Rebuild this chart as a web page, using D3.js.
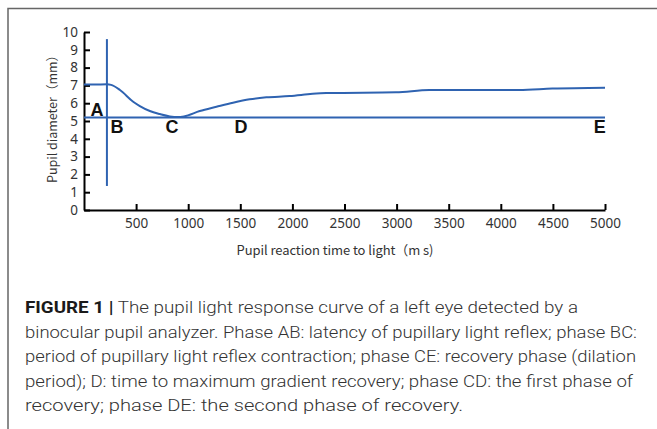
<!DOCTYPE html>
<html>
<head>
<meta charset="utf-8">
<script src="https://cdn.jsdelivr.net/npm/d3@7"></script>
<style>
  body { margin: 0; background: #fff; }
  .label { font-family: "Noto Sans CJK SC", "Noto Sans", sans-serif; font-size: 13px; fill: #333; }
  .letra { font-family: "Liberation Sans", Arial, sans-serif; font-size: 18px; font-weight: bold; fill: #111; }
  .caption { font-family: Roboto, "Liberation Sans", sans-serif; font-size: 16.5px; font-weight: 300; fill: #333; }
</style>
</head>
<body>
<div id="fig"></div>
<script>
// curva de respuesta pupilar (ms, mm)
const tiempos = [0, 100, 220, 260, 345, 472, 536, 632, 728, 824, 900, 960, 1111, 1271, 1430, 1590, 1750, 1973, 2100, 2229, 2356, 2995, 3314, 4176, 4495, 5000];
const diametros = [7.05, 7.05, 7.06, 7.03, 6.74, 6.08, 5.84, 5.56, 5.39, 5.26, 5.22, 5.26, 5.56, 5.8, 6.03, 6.22, 6.33, 6.4, 6.47, 6.55, 6.57, 6.61, 6.74, 6.74, 6.82, 6.87];

// líneas de referencia
const nivelBase = 5.2;          // horizontal, de 0 a 5000 ms
const latencia = 220;           // vertical en B
const latenciaRango = [1.35, 9.6];

// puntos de fase
const fases = ["A", "B", "C", "D", "E"];
const faseX = [125, 317, 845, 1506, 4950];
const faseY = [5.28, 4.33, 4.33, 4.33, 4.33];

const xTicks = [500, 1000, 1500, 2000, 2500, 3000, 3500, 4000, 4500, 5000];
const yTicks = [0, 1, 2, 3, 4, 5, 6, 7, 8, 9, 10];

const xLabel = "Pupil reaction time to light（m s)";
const yLabel = "Pupil diameter（mm）";

const captionBold = "FIGURE 1 |";
const captionLines = [
  " The pupil light response curve of a left eye detected by a",
  "binocular pupil analyzer. Phase AB: latency of pupillary light reflex; phase BC:",
  "period of pupillary light reflex contraction; phase CE: recovery phase (dilation",
  "period); D: time to maximum gradient recovery; phase CD: the first phase of",
  "recovery; phase DE: the second phase of recovery."
];
const captionWidths = [553, 612, 611, 608, 438];

const w = 657, h = 429;
const margin = ({ top: 32, left: 84, bottom: 219, right: 52 });
const azul = "#2f63b1";

const svg = d3.select("#fig")
    .append("svg")
    .attr("width", w)
    .attr("height", h);

// marco
svg.append("path")
    .attr("d", "M8,429V8.5H657")
    .attr("fill", "none")
    .attr("stroke", "#666")
    .attr("stroke-width", 1.5);

const xScale = d3.scaleLinear()
    .domain([0, 5000])
    .range([margin.left, w - margin.right]);

const yScale = d3.scaleLinear()
    .domain([0, 10])
    .range([h - margin.bottom, margin.top]);

// Ejes
const xAxis = d3.axisBottom(xScale)
    .tickValues(xTicks)
    .tickFormat(d3.format("d"))
    .tickSizeInner(-6)
    .tickSizeOuter(0)
    .tickPadding(8);

const yAxis = d3.axisLeft(yScale)
    .tickValues(yTicks)
    .tickFormat(d3.format("d"))
    .tickSizeInner(-6)
    .tickSizeOuter(0)
    .tickPadding(6);

const gx = svg.append("g")
    .attr("transform", `translate(0,${yScale(0)})`)
    .call(xAxis);

const gy = svg.append("g")
    .attr("transform", `translate(${xScale(0)},0)`)
    .call(yAxis);

[gx, gy].forEach(g => {
    g.attr("font-family", "'Noto Sans', 'Open Sans', sans-serif")
        .attr("font-size", 13.5);
    g.select(".domain").attr("stroke", "#000").attr("stroke-width", 2);
    g.selectAll(".tick line").attr("stroke", "#000").attr("stroke-width", 2);
    g.selectAll(".tick text").attr("fill", "#333");
});

svg.append("text")
    .attr("class", "label")
    .attr("x", 335)
    .attr("y", 255)
    .attr("textLength", 197)
    .style("text-anchor", "middle")
    .text(xLabel);

svg.append("text")
    .attr("class", "label")
    .attr("transform", "rotate(-90)")
    .attr("x", -116)
    .attr("y", 57)
    .style("font-size", "12.5px")
    .style("text-anchor", "middle")
    .text(yLabel);

// líneas de referencia
svg.append("line")
    .attr("x1", xScale(0))
    .attr("x2", xScale(5000))
    .attr("y1", yScale(nivelBase))
    .attr("y2", yScale(nivelBase))
    .attr("stroke", azul)
    .attr("stroke-width", 2);

svg.append("line")
    .attr("x1", xScale(latencia))
    .attr("x2", xScale(latencia))
    .attr("y1", yScale(latenciaRango[0]))
    .attr("y2", yScale(latenciaRango[1]))
    .attr("stroke", azul)
    .attr("stroke-width", 2);

// curva
const datos = tiempos.map((t, i) => ({ t: t, v: diametros[i] }));
const linea = d3.line()
    .x(d => xScale(d.t))
    .y(d => yScale(d.v))
    .curve(d3.curveMonotoneX);

svg.append("path")
    .datum(datos)
    .attr("d", linea)
    .attr("fill", "none")
    .attr("stroke", azul)
    .attr("stroke-width", 2);

// letras de fase
svg.selectAll(".letra")
    .data(fases)
    .enter()
    .append("text")
    .attr("class", "letra")
    .attr("x", (d, i) => xScale(faseX[i]))
    .attr("y", (d, i) => yScale(faseY[i]))
    .style("text-anchor", "middle")
    .text(d => d);

// pie de figura
const cap = svg.append("g").attr("class", "caption");
captionLines.forEach((linea, i) => {
    const t = cap.append("text")
        .attr("x", 25)
        .attr("y", 313 + i * 24.5)
        .attr("textLength", captionWidths[i])
        .attr("lengthAdjust", "spacingAndGlyphs");
    if (i === 0) {
        t.append("tspan").attr("font-weight", "bold").attr("fill", "#1a1a1a").text(captionBold);
    }
    t.append("tspan").text(linea);
});
</script>
</body>
</html>
